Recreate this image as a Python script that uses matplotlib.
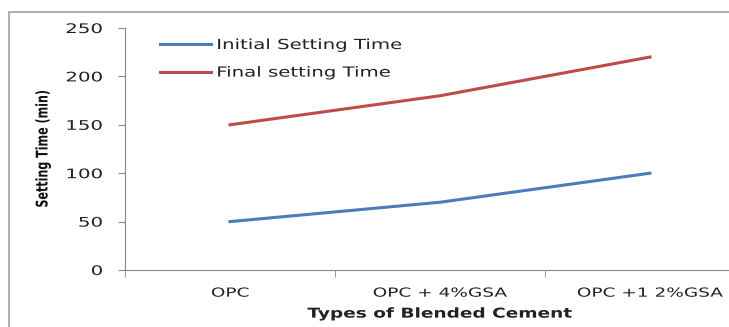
import matplotlib
matplotlib.use("Agg")
import matplotlib.pyplot as plt
from matplotlib.patches import Rectangle
from matplotlib.patheffects import AbstractPathEffect
from matplotlib.transforms import Affine2D

categories = ["OPC", "OPC + 4%GSA", "OPC +1 2%GSA"]
initial_setting = [50, 70, 100]
final_setting = [150, 180, 220]
y_ticks = [0, 50, 100, 150, 200, 250]


class Stretch(AbstractPathEffect):
    """Scale text glyphs in their local frame (the reference looks horizontally stretched)."""

    def __init__(self, sx=1.0, sy=1.0, ha="left"):
        super().__init__()
        self.sx, self.sy, self.ha = sx, sy, ha

    def draw_path(self, renderer, gc, tpath, affine, rgbFace=None):
        v = tpath.vertices
        if len(v) == 0:
            return
        if self.ha == "center":
            x0 = (v[:, 0].min() + v[:, 0].max()) / 2
        elif self.ha == "right":
            x0 = v[:, 0].max()
        else:
            x0 = 0.0
        y0 = (v[:, 1].min() + v[:, 1].max()) / 2
        t = Affine2D().translate(-x0, -y0).scale(self.sx, self.sy).translate(x0, y0) + affine
        renderer.draw_path(gc, tpath, t, rgbFace)


fig = plt.figure(figsize=(7.29, 3.27), dpi=100)
fig.patch.set_facecolor("white")

# outer chart border (cropped on right/bottom)
fig.patches.append(Rectangle((9/729, -0.1), 1.2, 1 - 12/327 + 0.1, transform=fig.transFigure,
                             fill=False, edgecolor="#a0a0a0", linewidth=1.2))

ax = fig.add_axes([125/729, 1 - 270/327, 630/729, (270 - 28)/327])
x = list(range(len(categories)))
ax.plot(x, initial_setting, color="#4A7EBB", linewidth=2.2, label="Initial Setting Time")
ax.plot(x, final_setting, color="#BE4B48", linewidth=2.2, label="Final setting Time")

ax.set_xlim(-0.5, len(categories) - 0.5)
ax.set_ylim(0, 250)
ax.set_yticks(y_ticks)
ax.set_yticklabels([str(v) for v in y_ticks], fontsize=9.5, color="#222222")
ax.set_xticks(x)
ax.set_xticklabels(categories, fontsize=9, color="#222222")
ax.tick_params(axis="x", length=0, pad=12)
ax.set_xticks([i - 0.5 for i in range(len(categories) + 1)], minor=True)
ax.tick_params(axis="x", which="minor", length=5, color="#888888")
ax.tick_params(axis="y", length=5, color="#888888", pad=11)

for s in ["top", "right"]:
    ax.spines[s].set_visible(False)
for s in ["left", "bottom"]:
    ax.spines[s].set_color("#888888")

ylab = ax.set_ylabel("Setting Time (min)", fontsize=8, fontweight="bold", color="#111111")
ax.yaxis.set_label_coords(-0.122, 0.5)
ylab.set_path_effects([Stretch(sy=1.45, ha="center")])

xlab = ax.set_xlabel("Types of Blended Cement", fontsize=9.8, fontweight="bold", labelpad=5,
                     color="#222222")
xlab.set_path_effects([Stretch(sx=1.36, ha="center")])

for t in ax.get_xticklabels():
    t.set_path_effects([Stretch(sx=1.48, ha="center")])
for t in ax.get_yticklabels():
    t.set_path_effects([Stretch(sx=1.5, ha="right")])

leg = ax.legend(loc="upper left", bbox_to_anchor=((160 - 125) / 630, (270 - 38) / 242),
                frameon=False, fontsize=10, borderpad=0, borderaxespad=0,
                handlelength=3.7, handletextpad=0.35, labelspacing=0.98)
for t in leg.get_texts():
    t.set_color("#222222")
    t.set_path_effects([Stretch(sx=1.42, ha="left")])

fig.savefig("out.png", dpi=100)
